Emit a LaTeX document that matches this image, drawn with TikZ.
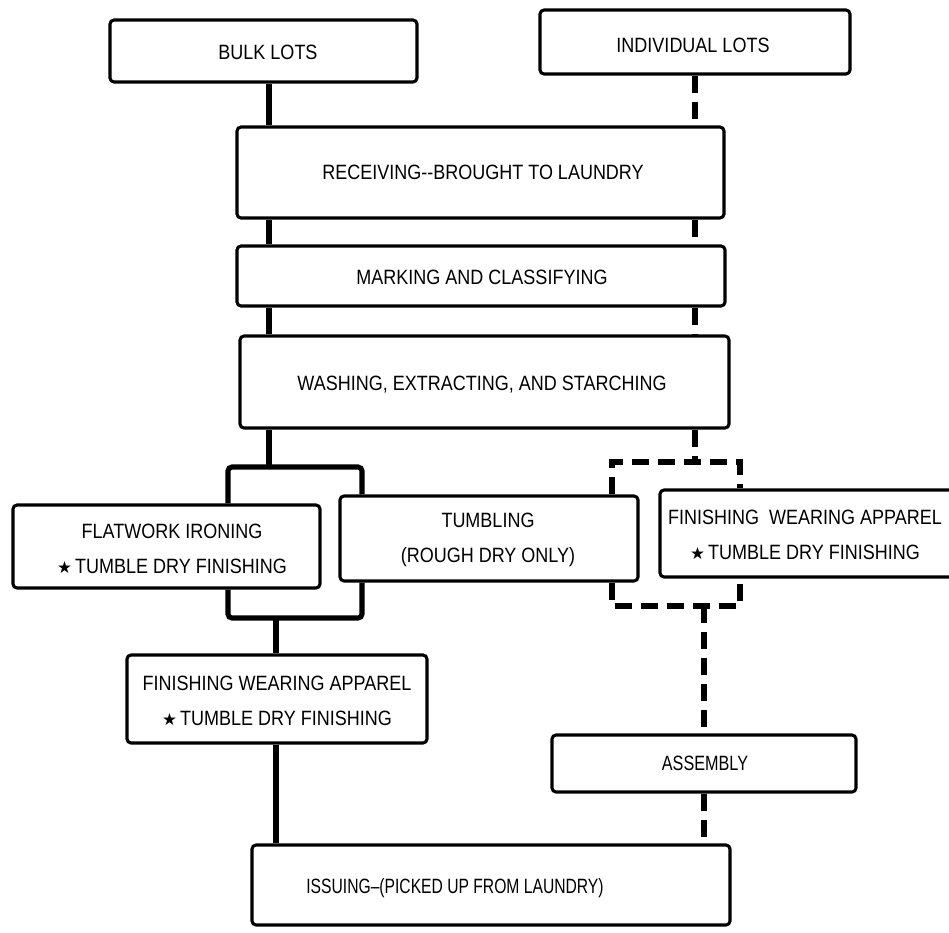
\documentclass[tikz,border=0pt]{standalone}
\usepackage{fontspec}
\setmainfont{Liberation Sans}
\newfontfamily\starfont{DejaVu Sans}
\usetikzlibrary{fit}

% lettering is a little taller than Arial at the same width
\newcommand{\tl}[1]{\scalebox{1}[1.15]{#1}}
\newcommand{\fstar}{{\starfont\fontsize{12.5}{10}\selectfont\raisebox{0.3pt}{★}}\,}

\begin{document}
\begin{tikzpicture}[x=0.75pt,y=-0.75pt,
  box/.style={draw, line width=2.3pt, rounded corners=3pt, inner sep=0pt},
  txt/.style={font=\fontsize{13.5}{26.5}\selectfont, align=center, inner sep=0pt},
  solidlink/.style={line width=3.8pt},
  dashlink/.style={line width=3.8pt, dash pattern=on 13pt off 6.5pt},
]
\useasboundingbox (0,0) rectangle (949,932);

% process boxes
\node[box, fit={(110,20) (417,82)}] (bulk) {};
\node[box, fit={(540,10) (850,74)}] (indiv) {};
\node[box, fit={(237,127) (724,218)}] (recv) {};
\node[box, fit={(237,246) (725,306)}] (mark) {};
\node[box, fit={(240,336) (729,428)}] (wash) {};
\node[box, fit={(13,505) (320,588)}] (flat) {};
\node[box, fit={(340,496) (638,581)}] (tumb) {};
\node[box, fit={(660,490) (965,577)}] (finR) {};
\node[box, fit={(127,655) (427,743)}] (finL) {};
\node[box, fit={(552,735) (856,792)}] (assem) {};
\node[box, fit={(252,845) (730,925)}] (issue) {};

% box texts
\node[txt] (tbulk)  at (268,52)  {\tl{BULK LOTS}};
\node[txt] (tindiv) at (693,45)  {\tl{INDIVIDUAL LOTS}};
\node[txt] (trecv)  at (483,172) {\tl{RECEIVING-{}-BROUGHT TO LAUNDRY}};
\node[txt] (tmark)  at (482,277) {\tl{MARKING AND CLASSIFYING}};
\node[txt] (twash)  at (482,385) {\tl{WASHING, EXTRACTING, AND STARCHING}};
\node[txt] (tflat)  at (172,549) {\tl{FLATWORK IRONING}\\\fstar\tl{TUMBLE DRY FINISHING}};
\node[txt] (ttumb)  at (488,540) {\tl{TUMBLING}\\\tl{(ROUGH DRY ONLY)}};
\node[txt] (tfinR)  at (805,535) {\tl{FINISHING\ \ WEARING APPAREL}\\\fstar\tl{TUMBLE DRY FINISHING}};
\node[txt] (tfinL)  at (277,701) {\tl{FINISHING WEARING APPAREL}\\\fstar\tl{TUMBLE DRY FINISHING}};
\node[txt] (tassem) at (705,763) {\scalebox{0.9}[1.15]{ASSEMBLY}};
\node[txt] (tissue) at (455,888) {\scalebox{0.87}[1.15]{ISSUING–(PICKED UP FROM LAUNDRY)}};

% column positions and bracket corners
\coordinate (cb)  at (269,0);
\coordinate (cb2) at (276,0);
\coordinate (cd)  at (695,0);
\coordinate (cd2) at (704,0);
\coordinate (sTL) at (228,467);
\coordinate (sTR) at (362,467);
\coordinate (sBL) at (228,618);
\coordinate (sBR) at (362,618);
\coordinate (dTL) at (612,462);
\coordinate (dTR) at (740,462);
\coordinate (dBL) at (612,606);
\coordinate (dBR) at (740,606);

% bulk lots flow (solid)
\draw[solidlink] (bulk.south -| cb) -- (recv.north -| cb);
\draw[solidlink] (recv.south -| cb) -- (mark.north -| cb);
\draw[solidlink] (mark.south -| cb) -- (wash.north -| cb);
\draw[solidlink] (wash.south -| cb) -- (sTL -| cb);
\draw[solidlink, rounded corners=3pt] (flat.north -| sTL) -- (sTL) -- (sTR) -- (tumb.north -| sTR);
\draw[solidlink, rounded corners=3pt] (flat.south -| sBL) -- (sBL) -- (sBR) -- (tumb.south -| sBR);
\draw[solidlink] (sBL -| cb2) -- (finL.north -| cb2);
\draw[solidlink] (finL.south -| cb2) -- (issue.north -| cb2);

% individual lots flow (dashed)
\draw[dashlink] (indiv.south -| cd) -- (recv.north -| cd);
\draw[dashlink] (recv.south -| cd) -- (mark.north -| cd);
\draw[dashlink] (mark.south -| cd) -- (wash.north -| cd);
\draw[dashlink] (wash.south -| cd) -- (dTL -| cd);
\draw[dashlink] (tumb.north -| dTL) -- (dTL) -- (dTR) -- (finR.north -| dTR);
\draw[dashlink] (tumb.south -| dBL) -- (dBL) -- (dBR) -- (finR.south -| dBR);
\draw[dashlink] (dBL -| cd2) -- (assem.north -| cd2);
\draw[dashlink] (assem.south -| cd2) -- (issue.north -| cd2);
\end{tikzpicture}
\end{document}
